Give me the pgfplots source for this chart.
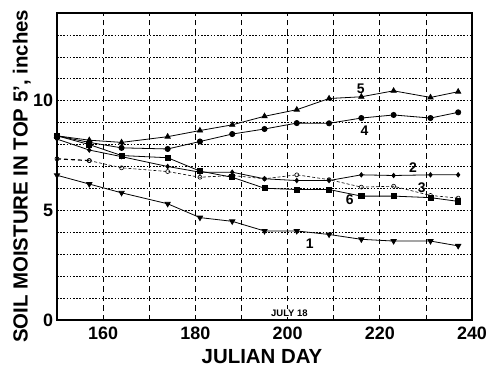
\documentclass[border=0pt]{standalone}
\usepackage{fontspec}
\setmainfont{Liberation Sans}
\usepackage{pgfplots}
\pgfplotsset{compat=1.18}
\begin{document}
\begin{tikzpicture}
\begin{axis}[
  scale only axis, width=415bp, height=307bp,
  xmin=150, xmax=240, ymin=0, ymax=14,
  xtick={160,180,200,220,240}, minor xtick={170,190,210,230},
  ytick={0,5,10}, minor ytick={1,2,3,4,6,7,8,9,11,12,13},
  xmajorgrids, xminorgrids, ymajorgrids, yminorgrids,
  major x grid style={black, line width=0.7bp, dash pattern=on 5.5bp off 4bp},
  minor x grid style={black, line width=0.7bp, dash pattern=on 5.5bp off 4bp},
  major y grid style={black, line width=0.6bp, dash pattern=on 1.6bp off 1.6bp},
  minor y grid style={black, line width=0.6bp, dash pattern=on 1.6bp off 1.6bp},
  major tick length=0pt, minor tick length=0pt,
  axis line style={line width=1.8bp},
  ticklabel style={font=\fontsize{18}{18}\selectfont\bfseries},
  /pgf/number format/assume math mode=true,
  xticklabel style={yshift=-3bp},
  yticklabel style={xshift=-0.5bp},
  xlabel={JULIAN DAY}, ylabel={SOIL MOISTURE IN TOP 5', inches},
  xlabel style={font=\fontsize{20.5}{20.5}\selectfont\bfseries, at={(axis description cs:0.494,-0.12)}, anchor=center},
  ylabel style={font=\fontsize{20.5}{20.5}\selectfont\bfseries, at={(axis description cs:-0.085,0.468)}, anchor=center},
  every axis plot/.append style={black, line width=0.8bp},
  clip=false,
]
% 1
\addplot[mark=triangle*, mark size=3bp, mark options={rotate=180, solid}] coordinates {
(150,6.6)(157,6.2)(164,5.8)(174,5.3)(181,4.67)(188,4.5)(195,4.06)(202,4.06)(209,3.9)(216,3.68)(223,3.6)(231,3.6)(237,3.38)};
% 2
\addplot[mark=diamond*, mark size=2.2bp, mark options={solid}] coordinates {
(150,8.25)(157,7.75)(164,7.45)(174,7.0)(181,6.74)(188,6.74)(195,6.44)(202,6.36)(209,6.36)(216,6.62)(223,6.59)(231,6.62)(237,6.62)};
% 3
\addplot[dash pattern=on 3bp off 2bp, line width=0.6bp, mark=o, mark size=2bp, mark options={solid}] coordinates {
(157,7.27)(164,6.94)(174,6.77)(181,6.51)(188,6.59)(195,6.44)(202,6.62)(209,6.4)(216,6.06)(223,6.1)(231,5.68)(237,5.56)};
\addplot[dash pattern=on 4bp off 3bp, line width=1.2bp, mark=o, mark size=2bp, mark options={solid, line width=0.7bp}] coordinates {
(150,7.35)(157,7.27)};
% 4
\addplot[mark=*, mark size=2.6bp] coordinates {
(150,8.4)(157,8.1)(164,7.85)(174,7.8)(181,8.14)(188,8.48)(195,8.71)(202,8.98)(209,8.97)(216,9.21)(223,9.35)(231,9.21)(237,9.47)};
% 5
\addplot[mark=triangle*, mark size=3bp] coordinates {
(150,8.4)(157,8.2)(164,8.1)(174,8.36)(181,8.64)(188,8.9)(195,9.29)(202,9.59)(209,10.1)(216,10.18)(223,10.45)(231,10.15)(237,10.41)};
% 6
\addplot[mark=square*, mark size=2.6bp] coordinates {
(150,8.4)(157,8.0)(164,7.5)(174,7.4)(181,6.79)(188,6.51)(195,6.01)(202,5.95)(209,5.95)(216,5.65)(223,5.65)(231,5.58)(237,5.41)};
\begin{scope}[font=\fontsize{14}{14}\selectfont\bfseries]
\node at (axis cs:215.9,10.55) {5};
\node at (axis cs:216.7,8.64) {4};
\node at (axis cs:227.2,6.95) {2};
\node at (axis cs:229.1,6.04) {3};
\node at (axis cs:213.5,5.5) {6};
\node at (axis cs:204.8,3.5) {1};
\end{scope}
\node[fill=white, inner sep=1bp, font=\fontsize{9.5}{9.5}\selectfont\bfseries] at (axis cs:200.4,0.32) {JULY 18};
\end{axis}
\pgfresetboundingbox
\path ([shift={(-57bp,-55bp)}]current axis.south west) rectangle ([shift={(18bp,13bp)}]current axis.north east);
\end{tikzpicture}
\end{document}
